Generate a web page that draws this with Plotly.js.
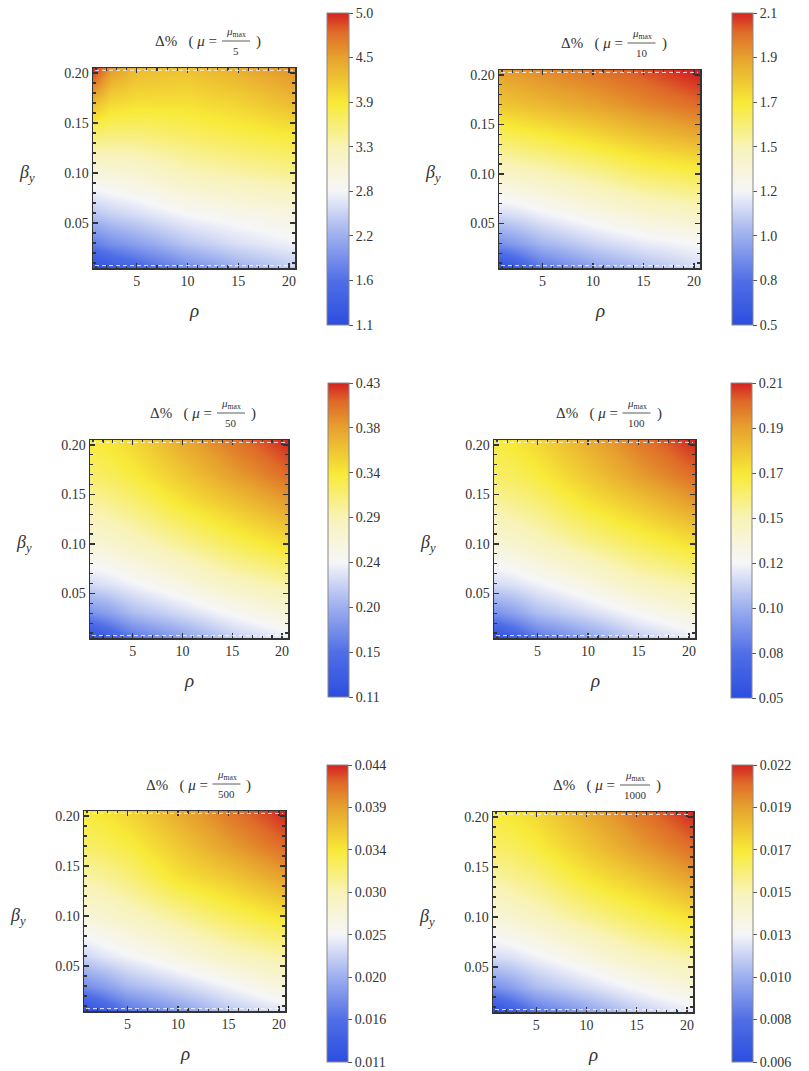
<!DOCTYPE html>
<html><head><meta charset="utf-8">
<script src="https://cdn.plot.ly/plotly-3.0.1.min.js"></script>
<style>body{margin:0;background:#fff}#chart{width:809px;height:1071px}</style>
</head><body><div id="chart"></div>
<script>
// ---- data ----
const rho = [0.7, 2.5, 5, 10, 15, 20.6];
const betaY = [0.005, 0.03, 0.06, 0.10, 0.14, 0.17, 0.205];
const xTicks = [5, 10, 15, 20];
const yTicks = [0.05, 0.10, 0.15, 0.20];
const denominators = ["5", "10", "50", "100", "500", "1000"];

const zMu5 = [
  [1.10, 1.30, 1.50, 1.90, 2.20, 2.45],
  [1.80, 1.95, 2.10, 2.40, 2.60, 2.75],
  [2.40, 2.50, 2.60, 2.80, 2.90, 3.00],
  [3.00, 3.05, 3.10, 3.30, 3.40, 3.50],
  [3.65, 3.60, 3.60, 3.70, 3.80, 3.90],
  [4.25, 4.00, 3.95, 3.95, 4.05, 4.25],
  [5.00, 4.50, 4.25, 4.20, 4.35, 4.55]
];
const zMu10 = [
  [0.50, 0.60, 0.75, 0.90, 1.00, 1.10],
  [0.85, 0.90, 0.98, 1.08, 1.15, 1.20],
  [1.10, 1.12, 1.17, 1.25, 1.32, 1.37],
  [1.35, 1.37, 1.40, 1.47, 1.55, 1.60],
  [1.58, 1.60, 1.63, 1.70, 1.78, 1.85],
  [1.75, 1.77, 1.80, 1.86, 1.93, 2.00],
  [1.88, 1.90, 1.93, 1.98, 2.04, 2.12]
];
const zMu50 = [
  [0.110, 0.130, 0.160, 0.190, 0.220, 0.240],
  [0.180, 0.190, 0.210, 0.230, 0.250, 0.270],
  [0.230, 0.235, 0.245, 0.265, 0.285, 0.300],
  [0.270, 0.275, 0.285, 0.305, 0.325, 0.345],
  [0.300, 0.305, 0.315, 0.340, 0.360, 0.385],
  [0.320, 0.325, 0.335, 0.360, 0.385, 0.410],
  [0.335, 0.340, 0.350, 0.380, 0.405, 0.430]
];
const zMu100 = [
  [0.050, 0.060, 0.075, 0.090, 0.105, 0.115],
  [0.085, 0.090, 0.100, 0.110, 0.120, 0.130],
  [0.110, 0.112, 0.117, 0.127, 0.138, 0.145],
  [0.130, 0.133, 0.138, 0.148, 0.157, 0.167],
  [0.145, 0.148, 0.152, 0.165, 0.175, 0.188],
  [0.156, 0.157, 0.162, 0.175, 0.188, 0.200],
  [0.162, 0.165, 0.170, 0.184, 0.197, 0.210]
];
const zMu500 = [
  [0.0110, 0.0130, 0.0160, 0.0190, 0.0220, 0.0240],
  [0.0180, 0.0190, 0.0210, 0.0230, 0.0250, 0.0275],
  [0.0230, 0.0240, 0.0250, 0.0270, 0.0290, 0.0305],
  [0.0275, 0.0280, 0.0290, 0.0310, 0.0330, 0.0350],
  [0.0305, 0.0310, 0.0320, 0.0350, 0.0368, 0.0394],
  [0.0328, 0.0331, 0.0340, 0.0367, 0.0394, 0.0420],
  [0.0341, 0.0348, 0.0358, 0.0387, 0.0414, 0.0440]
];
const zMu1000 = [
  [0.0060, 0.0070, 0.0085, 0.0100, 0.0115, 0.0125],
  [0.0095, 0.0100, 0.0110, 0.0120, 0.0130, 0.0140],
  [0.0120, 0.0122, 0.0127, 0.0137, 0.0148, 0.0155],
  [0.0140, 0.0143, 0.0148, 0.0158, 0.0167, 0.0177],
  [0.0155, 0.0158, 0.0162, 0.0175, 0.0185, 0.0198],
  [0.0166, 0.0167, 0.0172, 0.0185, 0.0198, 0.0210],
  [0.0172, 0.0175, 0.0180, 0.0194, 0.0207, 0.0220]
];
const zSets = [zMu5, zMu10, zMu50, zMu100, zMu500, zMu1000];
const zRanges = [[1.1, 5.0], [0.5, 2.1], [0.11, 0.43], [0.05, 0.21], [0.011, 0.044], [0.006, 0.022]];
const cbLabels = [
  ["1.1", "1.6", "2.2", "2.8", "3.3", "3.9", "4.5", "5.0"],
  ["0.5", "0.8", "1.0", "1.2", "1.5", "1.7", "1.9", "2.1"],
  ["0.11", "0.15", "0.20", "0.24", "0.29", "0.34", "0.38", "0.43"],
  ["0.05", "0.08", "0.10", "0.12", "0.15", "0.17", "0.19", "0.21"],
  ["0.011", "0.016", "0.020", "0.025", "0.030", "0.034", "0.039", "0.044"],
  ["0.006", "0.008", "0.010", "0.013", "0.015", "0.017", "0.019", "0.022"]
];

// ---- layout (pixels) ----
const W = 809, H = 1071;
const boxes = [ // plot [left,right,top,bottom], colorbar [left,top,thick,len]
  {p: [93, 295, 68, 268], cb: [327, 13, 22, 312]},
  {p: [499, 700, 70, 268], cb: [732, 13, 21, 312]},
  {p: [90, 288, 440, 638], cb: [328, 383, 21, 314]},
  {p: [494, 695, 440, 638], cb: [731, 383, 21, 315]},
  {p: [84, 285, 811, 1011], cb: [327, 765, 21, 297]},
  {p: [493, 693, 812, 1012], cb: [732, 765, 21, 297]}
];
const cscale = [
  [0.00, '#2c4ee0'], [0.14, '#4f6ee6'], [0.29, '#9fb1ef'], [0.43, '#f6f6f8'],
  [0.57, '#f8f3b8'], [0.71, '#f8ea38'], [0.86, '#e6a02e'], [0.94, '#df6a28'], [1.00, '#d42222']
];
const serif = 'Times New Roman, Liberation Serif, DejaVu Serif, serif';
const px = v => v / W, py = v => 1 - v / H;

const data = [], annotations = [], shapes = [];
const layout = {width: W, height: H, margin: {l: 0, r: 0, t: 0, b: 0},
  font: {family: serif, size: 13, color: '#333'},
  paper_bgcolor: '#fff', plot_bgcolor: '#fff', showlegend: false};

boxes.forEach((b, i) => {
  const n = i + 1, xa = 'x' + (n === 1 ? '' : n), ya = 'y' + (n === 1 ? '' : n);
  const [zmin, zmax] = zRanges[i];
  const tv = cbLabels[i].map((_, k) => zmin + (zmax - zmin) * k / (cbLabels[i].length - 1));
  data.push({
    type: 'heatmap', x: rho, y: betaY, z: zSets[i], xaxis: xa, yaxis: ya,
    zsmooth: 'best', zmin: zmin, zmax: zmax, colorscale: cscale, hoverinfo: 'skip',
    colorbar: {
      x: px(b.cb[0]), xanchor: 'left', y: py(b.cb[1]), yanchor: 'top',
      thickness: b.cb[2], thicknessmode: 'pixels', len: b.cb[3], lenmode: 'pixels',
      xpad: 0, ypad: 0, outlinecolor: '#888', outlinewidth: 1,
      tickvals: tv, ticktext: cbLabels[i], ticks: 'outside', ticklen: 4, tickcolor: '#555',
      tickfont: {family: serif, size: 14, color: '#333'}
    }
  });
  const axBase = {showgrid: false, zeroline: false, showline: true, linecolor: '#333', linewidth: 1.5,
    mirror: 'allticks', ticks: 'inside', ticklen: 5, tickcolor: '#333', tickwidth: 1.2,
    tickfont: {family: serif, size: 14, color: '#333'}};
  layout['xaxis' + (n === 1 ? '' : n)] = Object.assign({}, axBase, {
    domain: [px(b.p[0]), px(b.p[1])], anchor: ya, range: [0.7, 20.6],
    tickvals: xTicks, minor: {dtick: 1, tick0: 0, ticks: 'inside', ticklen: 3, tickcolor: '#333'}
  });
  layout['yaxis' + (n === 1 ? '' : n)] = Object.assign({}, axBase, {
    domain: [py(b.p[3]), py(b.p[2])], anchor: xa, range: [0.005, 0.205],
    tickvals: yTicks, tickformat: '.2f',
    minor: {dtick: 0.01, tick0: 0, ticks: 'inside', ticklen: 3, tickcolor: '#333'}
  });
  // white dashed edge artefacts along top and bottom
  [0.012, 0.988].forEach(yy => shapes.push({type: 'line', xref: xa + ' domain', yref: ya + ' domain',
    x0: 0.01, x1: 0.99, y0: yy, y1: yy, line: {color: 'rgba(255,255,255,0.85)', width: 1, dash: '4px,3px'}}));

  const cx = (b.p[0] + b.p[1]) / 2, ty = b.p[2] - 26;
  const fw = denominators[i].length >= 4 ? 30 : 28;
  const fc = cx + 42;
  annotations.push({xref: 'paper', yref: 'paper', x: px(fc - fw / 2 - 3), y: py(ty), xanchor: 'right', yanchor: 'middle',
    showarrow: false, text: 'Δ%&nbsp;&nbsp;&nbsp;(&nbsp;<i>μ</i>&nbsp;=', font: {family: serif, size: 15, color: '#333'}});
  annotations.push({xref: 'paper', yref: 'paper', x: px(fc), y: py(ty - 1), xanchor: 'center', yanchor: 'bottom',
    showarrow: false, text: '<i>μ</i><sub>max</sub>', font: {family: serif, size: 11, color: '#333'}});
  annotations.push({xref: 'paper', yref: 'paper', x: px(fc), y: py(ty + 1), xanchor: 'center', yanchor: 'top',
    showarrow: false, text: denominators[i], font: {family: serif, size: 11, color: '#333'}});
  shapes.push({type: 'line', xref: 'paper', yref: 'paper', x0: px(fc - fw / 2), x1: px(fc + fw / 2),
    y0: py(ty - 1), y1: py(ty - 1), line: {color: '#333', width: 0.8}});
  annotations.push({xref: 'paper', yref: 'paper', x: px(fc + fw / 2 + 4), y: py(ty), xanchor: 'left', yanchor: 'middle',
    showarrow: false, text: ')', font: {family: serif, size: 15, color: '#333'}});
  // axis labels
  annotations.push({xref: 'paper', yref: 'paper', x: px(cx), y: py(b.p[3] + 42), xanchor: 'center', yanchor: 'middle',
    showarrow: false, text: '<i>ρ</i>', font: {family: serif, size: 19, color: '#333'}});
  annotations.push({xref: 'paper', yref: ya, x: px(b.p[0] - 66), y: 0.10, xanchor: 'center', yanchor: 'middle',
    showarrow: false, text: '<i>β</i><sub><i>y</i></sub>', font: {family: serif, size: 18, color: '#333'}});
});
layout.annotations = annotations;
layout.shapes = shapes;
Plotly.newPlot('chart', data, layout, {displayModeBar: false, staticPlot: true});
</script></body></html>
